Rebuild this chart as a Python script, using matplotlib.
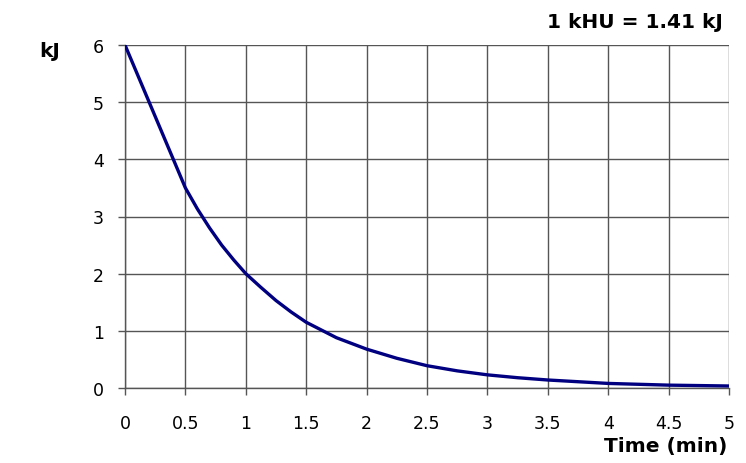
import matplotlib
matplotlib.use("Agg")
from matplotlib import pyplot as plt

# tube cooling curve
time_min = [0, 0.1, 0.2, 0.3, 0.4, 0.45, 0.5, 0.6, 0.7, 0.8, 0.9, 1, 1.125, 1.25, 1.375, 1.5,
            1.75, 2, 2.25, 2.5, 2.75, 3, 3.25, 3.5, 3.75, 4, 4.5, 5]
energy_kj = [6.0, 5.5, 5.0, 4.5, 4.0, 3.75, 3.5, 3.13, 2.8, 2.5, 2.24, 2.0, 1.76, 1.53, 1.33, 1.15,
             0.88, 0.68, 0.52, 0.39, 0.30, 0.23, 0.18, 0.14, 0.11, 0.08, 0.05, 0.035]
x_ticks = [0, 0.5, 1, 1.5, 2, 2.5, 3, 3.5, 4, 4.5, 5]
x_labels = ["0", "0.5", "1", "1.5", "2", "2.5", "3", "3.5", "4", "4.5", "5"]
y_ticks = [0, 1, 2, 3, 4, 5, 6]

fig = plt.figure(figsize=(7.46, 4.64), dpi=100)
ax = fig.add_axes([125 / 746, 75 / 464, 604 / 746, 343 / 464])

ax.plot(time_min, energy_kj, color="#000080", linewidth=2.4, solid_joinstyle="round",
        solid_capstyle="round", zorder=3)

ax.set_xlim(0, 5)
ax.set_ylim(0, 6)
ax.set_xticks(x_ticks)
ax.set_xticklabels(x_labels)
ax.set_yticks(y_ticks)
ax.grid(True, color="#555555", linewidth=1.0)
ax.set_axisbelow(True)

for side in ["top", "right"]:
    ax.spines[side].set_visible(False)
for side in ["left", "bottom"]:
    ax.spines[side].set_color("#555555")
    ax.spines[side].set_linewidth(1.0)

ax.tick_params(axis="both", length=5, width=1, color="#555555", labelsize=12.5)
ax.tick_params(axis="x", pad=14)
ax.tick_params(axis="y", pad=10)

bold = dict(family="DejaVu Sans", weight="bold", fontsize=14.5)
fig.text(50 / 746, 1 - 52 / 464, "kJ", ha="center", va="center", **bold)
fig.text(727 / 746, 1 - 447 / 464, "Time (min)", ha="right", va="center", **bold)
fig.text(723 / 746, 1 - 22 / 464, "1 kHU = 1.41 kJ", ha="right", va="center", **bold)

plt.savefig("out.png", dpi=100)
